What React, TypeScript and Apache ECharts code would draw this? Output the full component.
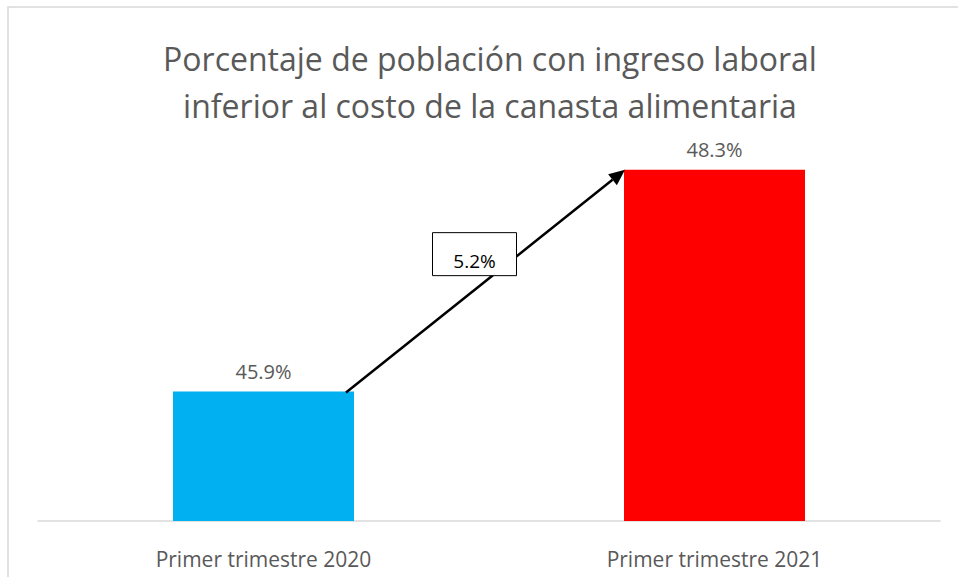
import React, { useEffect, useRef } from "react";
import * as echarts from "echarts";

const titleLines = [
  "Porcentaje de población con ingreso laboral",
  "inferior al costo de la canasta alimentaria",
];
const categories = ["Primer trimestre 2020", "Primer trimestre 2021"];
const values = [45.9, 48.3];
const barColors = ["#00B0F0", "#FF0000"];
const changeLabel = "5.2%";

const FONT = "'Open Sans', 'Noto Sans', sans-serif";
const TEXT = "#595959";
const BAR_W = 181;

export default function App() {
  const ref = useRef<HTMLDivElement>(null);
  useEffect(() => {
    document.body.style.margin = "0";
    const chart = echarts.init(ref.current!, null, { renderer: "svg" });
    chart.setOption({
      animation: false,
      backgroundColor: "#ffffff",
      textStyle: { fontFamily: FONT },
      grid: { left: 38, right: 18, top: 105, bottom: 56, containLabel: false },
      xAxis: {
        type: "category",
        data: categories,
        axisLine: { lineStyle: { color: "#d9d9d9", width: 1.5 } },
        axisTick: { show: false },
        axisLabel: { color: TEXT, fontSize: 21, fontFamily: FONT, margin: 27 },
      },
      yAxis: {
        type: "value",
        min: 44.5,
        max: 49,
        show: false,
        splitLine: { show: false },
      },
      series: [
        {
          type: "bar",
          barWidth: BAR_W,
          data: values.map((v, i) => ({ value: v, itemStyle: { color: barColors[i] } })),
          label: {
            show: true,
            position: "top",
            distance: 10,
            formatter: (p: any) => p.value.toFixed(1) + "%",
            color: TEXT,
            fontSize: 20,
            fontFamily: FONT,
          },
        },
      ],
    });

    const p1 = chart.convertToPixel({ seriesIndex: 0 }, [0, values[0]]) as number[];
    const p2 = chart.convertToPixel({ seriesIndex: 0 }, [1, values[1]]) as number[];
    const sx = p1[0] + BAR_W / 2 - 8;
    const sy = p1[1] + 1;
    const ex = p2[0] - BAR_W / 2 + 1;
    const ey = p2[1];
    const dx = ex - sx;
    const dy = ey - sy;
    const len = Math.sqrt(dx * dx + dy * dy);
    const ux = dx / len;
    const uy = dy / len;
    const headL = 16;
    const headW = 7;
    const bx = ex - ux * headL;
    const by = ey - uy * headL;
    const nx = -uy;
    const ny = ux;
    const mx = (sx + ex) / 2;
    const my = (sy + ey) / 2;
    const boxW = 84;
    const boxH = 43;
    const bcx = mx - 11;
    const bcy = my - 27;

    chart.setOption({
      graphic: [
        {
          type: "rect",
          shape: { x: 8, y: 7, width: 1200, height: 800 },
          style: { fill: "none", stroke: "#d9d9d9", lineWidth: 1.5 },
          silent: true,
          z: 0,
        },
        ...titleLines.map((t, i) => ({
          type: "text",
          x: 490,
          y: 58 + i * 47,
          style: {
            text: t,
            fontSize: 32,
            fontFamily: FONT,
            fill: TEXT,
            align: "center",
            verticalAlign: "middle",
          },
          z: 5,
        })),
        {
          type: "line",
          shape: { x1: sx, y1: sy, x2: bx, y2: by },
          style: { stroke: "#000000", lineWidth: 2.5 },
          z: 10,
        },
        {
          type: "polygon",
          shape: {
            points: [
              [ex, ey],
              [bx + nx * headW, by + ny * headW],
              [bx - nx * headW, by - ny * headW],
            ],
          },
          style: { fill: "#000000" },
          z: 10,
        },
        {
          type: "rect",
          shape: { x: bcx - boxW / 2, y: bcy - boxH / 2, width: boxW, height: boxH },
          style: { fill: "#ffffff", stroke: "#000000", lineWidth: 1 },
          z: 11,
        },
        {
          type: "text",
          x: bcx,
          y: bcy + 7,
          style: {
            text: changeLabel,
            fontSize: 19,
            fontFamily: FONT,
            fill: "#000000",
            align: "center",
            verticalAlign: "middle",
          },
          z: 12,
        },
      ],
    });

    return () => chart.dispose();
  }, []);
  return <div ref={ref} style={{ width: 958, height: 577 }} />;
}
